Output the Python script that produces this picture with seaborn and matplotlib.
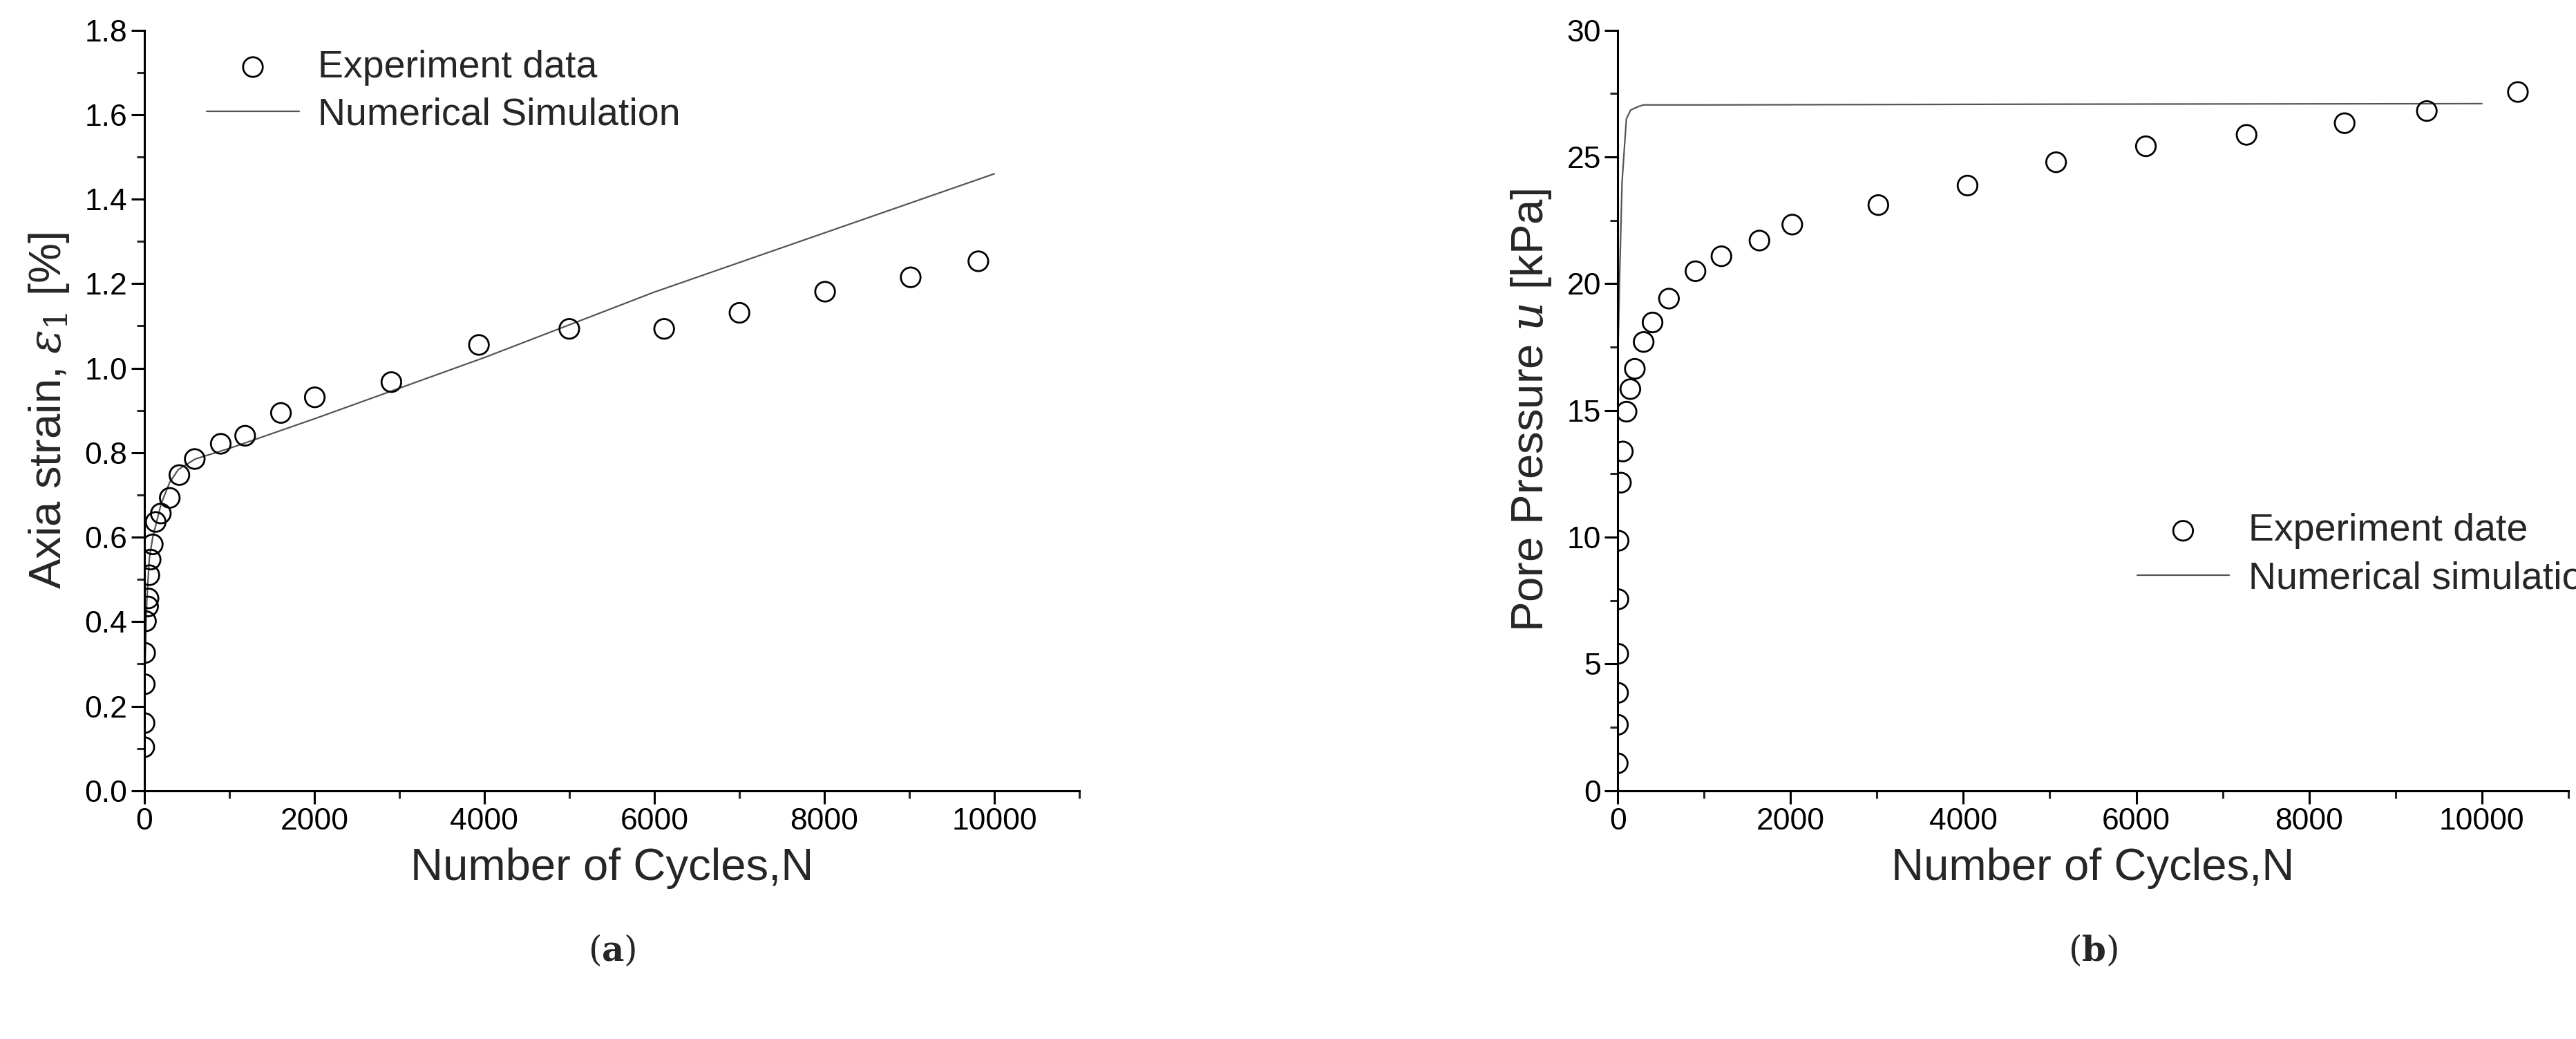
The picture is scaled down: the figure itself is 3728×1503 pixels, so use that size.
import numpy as np
import pandas as pd
import matplotlib
matplotlib.use("Agg")
import matplotlib.pyplot as plt
import seaborn as sns
from matplotlib.ticker import MultipleLocator

sns.set_theme(style="ticks")
plt.rcParams['font.family'] = ['Liberation Sans', 'DejaVu Sans']
plt.rcParams['mathtext.fontset'] = 'dejavuserif'

# Panel (a) data
a_exp_n = [0, 3, 6, 10, 20, 45, 50, 60, 75, 100, 135, 195, 300, 413, 594, 900, 1187,
           1608, 2006, 2907, 3937, 5000, 6116, 7002, 8009, 9016, 9812]
a_exp_e = [0.103, 0.160, 0.252, 0.326, 0.401, 0.436, 0.455, 0.510, 0.547, 0.583, 0.636,
           0.656, 0.693, 0.747, 0.785, 0.821, 0.840, 0.894, 0.931, 0.967, 1.055, 1.093,
           1.093, 1.131, 1.181, 1.215, 1.253]
a_sim_n = [0, 10, 30, 60, 100, 200, 300, 400, 600, 1000, 2000, 4000, 6000, 8000, 10000]
a_sim_e = [0.10, 0.30, 0.45, 0.55, 0.60, 0.68, 0.73, 0.76, 0.785, 0.81, 0.88, 1.025,
           1.18, 1.32, 1.46]

# Panel (b) data
b_exp_n = [0, 2, 4, 6, 8, 10, 37, 59, 102, 146, 198, 300, 403, 593, 900, 1200, 1640,
           2020, 3016, 4048, 5073, 6112, 7277, 8412, 9363, 10417]
b_exp_u = [1.08, 2.6, 3.86, 5.4, 7.55, 9.86, 12.15, 13.38, 14.95, 15.84, 16.64, 17.70,
           18.47, 19.41, 20.49, 21.08, 21.70, 22.33, 23.10, 23.87, 24.79, 25.42, 25.87,
           26.33, 26.81, 27.56]
b_sim_n = [0, 20, 50, 100, 150, 250, 300, 1000, 5000, 10000]
b_sim_u = [16.8, 20.0, 24.0, 26.5, 26.85, 27.0, 27.05, 27.05, 27.08, 27.1]

fig = plt.figure(figsize=(37.28, 15.03), dpi=100)
ax1 = fig.add_axes([0.056, 0.239, 0.363, 0.732])
ax2 = fig.add_axes([0.628, 0.239, 0.369, 0.732])

tick_fs = 32
leg_fs = 40
lab_fs = 47

def style(ax):
    for s in ['top', 'right']:
        ax.spines[s].set_visible(False)
    for s in ['left', 'bottom']:
        ax.spines[s].set_linewidth(2.2)
        ax.spines[s].set_color('black')
    ax.tick_params(which='major', direction='out', length=14, width=2.2, labelsize=tick_fs, colors='black')
    ax.tick_params(which='minor', direction='out', length=8, width=2.2)
    ax.xaxis.set_major_locator(MultipleLocator(2000))
    ax.xaxis.set_minor_locator(MultipleLocator(1000))
    ax.set_xlim(0, 11000)
    ax.set_xlabel("Number of Cycles,N", fontsize=lab_fs, labelpad=12)

sns.scatterplot(x=a_exp_n, y=a_exp_e, ax=ax1, marker='o', s=420, facecolors='none',
                edgecolor='black', linewidth=2.0, label='Experiment data', zorder=3)
sns.lineplot(x=a_sim_n, y=a_sim_e, ax=ax1, color='#555555', linewidth=1.6,
             label='Numerical Simulation', sort=False)
style(ax1)
ax1.set_ylim(0, 1.8)
ax1.yaxis.set_major_locator(MultipleLocator(0.2))
ax1.yaxis.set_minor_locator(MultipleLocator(0.1))
ax1.yaxis.set_major_formatter(matplotlib.ticker.FormatStrFormatter('%.1f'))
ax1.set_ylabel(r"Axia strain, $\varepsilon_1$ [%]", fontsize=lab_fs, labelpad=14)
ax1.legend(loc='upper left', bbox_to_anchor=(0.03, 1.02), frameon=False, fontsize=leg_fs,
           handlelength=2.4, handletextpad=0.5, labelspacing=0.3)

sns.scatterplot(x=b_exp_n, y=b_exp_u, ax=ax2, marker='o', s=420, facecolors='none',
                edgecolor='black', linewidth=2.0, label='Experiment date', zorder=3)
sns.lineplot(x=b_sim_n, y=b_sim_u, ax=ax2, color='#555555', linewidth=1.6,
             label='Numerical simulation', sort=False)
style(ax2)
ax2.set_ylim(0, 30)
ax2.yaxis.set_major_locator(MultipleLocator(5))
ax2.yaxis.set_minor_locator(MultipleLocator(2.5))
ax2.set_ylabel(r"Pore Pressure $u$ [kPa]", fontsize=lab_fs, labelpad=14)
ax2.legend(loc='center left', bbox_to_anchor=(0.51, 0.31), frameon=False, fontsize=leg_fs,
           handlelength=2.4, handletextpad=0.5, labelspacing=0.3)

fig.text(0.2375, 0.075, r"($\mathbf{a}$)", ha='center', fontsize=36, family='DejaVu Serif')
fig.text(0.8125, 0.075, r"($\mathbf{b}$)", ha='center', fontsize=36, family='DejaVu Serif')

fig.savefig("out.png", dpi=100, facecolor='white')
